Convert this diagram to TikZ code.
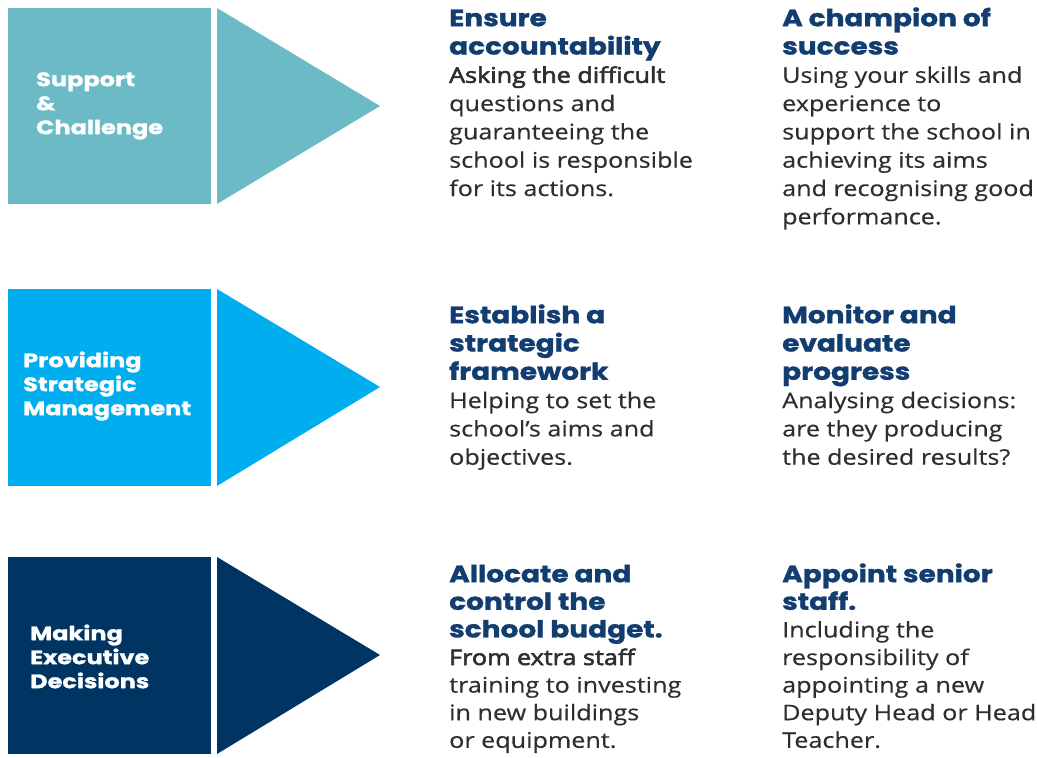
\documentclass[tikz,border=0pt]{standalone}
\usepackage{fontspec}
\newfontfamily\hdfont[FakeStretch=1.19,FakeBold=1.3]{Poppins}
\newfontfamily\lbfont[FakeStretch=1.23,FakeBold=1.2]{Poppins}
\newfontfamily\bdfont[FakeStretch=1.17,FakeBold=0.4]{Open Sans}
\newfontfamily\bdsemi[FakeStretch=1.17,FakeBold=2.6]{Open Sans}
\definecolor{cteal}{HTML}{6CBAC6}
\definecolor{ccyan}{HTML}{00AEEF}
\definecolor{cnavy}{HTML}{003462}
\definecolor{hdblue}{HTML}{123D70}
\definecolor{bodygrey}{HTML}{2E2E2E}
\def\bsk{28.3}
\newcommand\hd[1]{{\color{hdblue}\hdfont\bfseries\fontsize{23.5}{\bsk}\selectfont #1}}
\newcommand\bd[1]{{\color{bodygrey}\bdfont\fontsize{21.5}{\bsk}\selectfont #1}}
\newcommand\bs[1]{{\color{bodygrey}\bdsemi\fontsize{21.5}{\bsk}\selectfont #1}}
\newcommand\fst{\rule{0pt}{20pt}}
\newcommand\lst{\rule{0pt}{18pt}}
\begin{document}
\begin{tikzpicture}[x=1pt,y=-1pt,
  blk/.style={anchor=north west,inner sep=0pt,align=left,font=\fontsize{21.5}{\bsk}\selectfont},
  lbl/.style={anchor=north west,inner sep=0pt,align=left,text=white,font=\lbfont\bfseries\fontsize{19.5}{24}\selectfont}]
\useasboundingbox[fill=white] (0,0) rectangle (1037,758);
% row 1
\fill[cteal] (8,8) rectangle (211,204);
\fill[cteal] (217,8) -- (380,106) -- (217,204) -- cycle;
\node[lbl] (l1) at (36,68) {\lst Support\\\&\\Challenge};
% row 2
\fill[ccyan] (8,289) rectangle (211,486);
\fill[ccyan] (217,289) -- (380,387) -- (217,486) -- cycle;
\node[lbl] (l2) at (23,349) {\lst Providing\\Strategic\\Management};
% row 3
\fill[cnavy] (8,557) rectangle (211,754);
\fill[cnavy] (217,557) -- (380,655) -- (217,754) -- cycle;
\node[lbl] (l3) at (30,622) {\lst Making\\Executive\\Decisions};
% text blocks
\node[blk] (a1) at (449,6) {\fst\hd{Ensure}\\\hd{accountability}\\\bs{Asking the difficult}\\\bd{questions and}\\\bd{guaranteeing the}\\\bd{school is responsible}\\\bd{for its actions.}};
\node[blk] (a2) at (782,6) {\fst\hd{A champion of}\\\hd{success}\\\bd{Using your skills and}\\\bd{experience to}\\\bd{support the school in}\\\bd{achieving its aims}\\\bd{and recognising good}\\\bd{performance.}};
\node[blk] (b1) at (449,303) {\fst\hd{Establish a}\\\hd{strategic}\\\hd{framework}\\\bd{Helping to set the}\\\bd{school’s aims and}\\\bd{objectives.}};
\node[blk] (b2) at (782,303) {\fst\hd{Monitor and}\\\hd{evaluate}\\\hd{progress}\\\bd{Analysing decisions:}\\\bd{are they producing}\\\bd{the desired results?}};
\def\bsk{27.6}
\node[blk] (c1) at (449,562) {\fst\hd{Allocate and}\\\hd{control the}\\\hd{school budget.}\\\bs{From extra staff}\\\bd{training to investing}\\\bd{in new buildings}\\\bd{or equipment.}};
\node[blk] (c2) at (782,562) {\fst\hd{Appoint senior}\\\hd{staff.}\\\bd{Including the}\\\bd{responsibility of}\\\bd{appointing a new}\\\bd{Deputy Head or Head}\\\bd{Teacher.}};
\end{tikzpicture}
\end{document}
